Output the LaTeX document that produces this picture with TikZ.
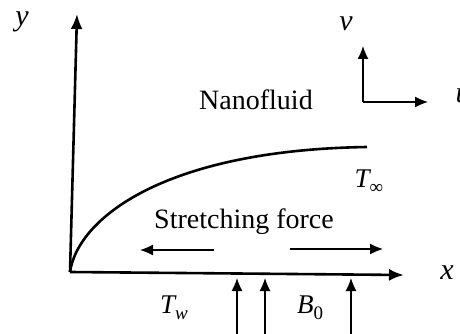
\documentclass[tikz,border=0pt]{standalone}
\usepackage{fontspec}
\setmainfont{Liberation Serif}
\usetikzlibrary{arrows.meta}
\newcommand{\mysub}[1]{\raisebox{-6pt}{\fontsize{19}{22}\selectfont #1}}
\begin{document}
\begin{tikzpicture}[x=1pt,y=-1pt,
  axis/.style={line width=2.6pt,-{Latex[length=15pt,width=12pt]}},
  thinarrow/.style={line width=1.3pt,-{Latex[length=13pt,width=11pt]}},
  bigtxt/.style={font=\fontsize{28}{32}\selectfont},
  varlab/.style={font=\fontsize{30}{34}\selectfont\itshape},
  sublab/.style={font=\fontsize{27}{30}\selectfont\itshape}]
\useasboundingbox (0,0) rectangle (460,334);
\coordinate (O) at (70,272);
\coordinate (Ytip) at (77,14);
\coordinate (Xtip) at (404,275);
\draw[axis] (O) -- (Ytip);
\draw[axis] (O) -- (Xtip);
\node[varlab] (ylab) at (22,22) {y};
\node[varlab] (xlab) at (447,273) {x};
% boundary layer curve
\coordinate (Cend) at (367,147);
\draw[line width=2.6pt] (O) .. controls (78,218) and (165,150) .. (Cend);
% velocity frame
\coordinate (F) at (363,102);
\coordinate (Vtip) at (363,46);
\coordinate (Utip) at (428,102);
\draw[thinarrow] (F) -- (Vtip);
\draw[thinarrow] (F) -- (Utip);
\node[varlab] (vlab) at (346,24) {v};
\node[varlab,anchor=west] (ulab) at (452,96) {u};
% texts
\node[bigtxt] (nano) at (256,100) {Nanofluid};
\node[bigtxt] (stretch) at (244,222) {Stretching force};
\node[sublab] (tinf) at (369,182) {T\mysub{\normalfont∞}};
\node[sublab] (tw) at (174,308) {T\mysub{w}};
\node[sublab] (b0) at (310,308) {B\mysub{\normalfont 0}};
% stretching arrows
\coordinate (L1) at (214,250);
\coordinate (L2) at (140,250);
\coordinate (R1) at (290,249);
\coordinate (R2) at (383,249);
\draw[thinarrow] (L1) -- (L2);
\draw[thinarrow] (R1) -- (R2);
% magnetic field arrows
\foreach \i/\xx in {1/237,2/265,3/351}{
  \coordinate (Bb\i) at (\xx,334);
  \coordinate (Bt\i) at (\xx,278);
  \draw[thinarrow] (Bb\i) -- (Bt\i);
}
\end{tikzpicture}
\end{document}
